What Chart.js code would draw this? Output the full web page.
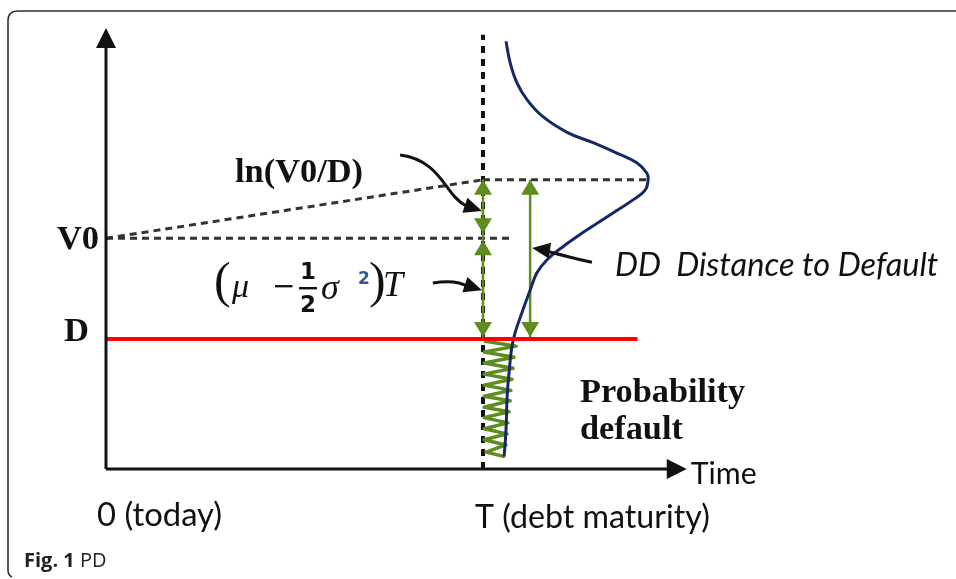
<!DOCTYPE html>
<html>
<head>
<meta charset="utf-8">
<script src="https://cdn.jsdelivr.net/npm/chart.js@4.4.1/dist/chart.umd.min.js"></script>
<style>
  html, body { margin: 0; padding: 0; background: #fff; }
  #c { display: block; }
</style>
</head>
<body>
<canvas id="c" width="956" height="579"></canvas>
<script>
// =====================
// data (x = time, y = ln value)
// =====================
const LEVEL_NAMES = ["V0", "D"];
const LEVEL_VALUES = [3.55, 2.0];
const EXPECTED_VT = 4.45;
const TIME_LABELS = ["0 (today)", "T (debt maturity)"];
const TIME_VALUES = [0, 1];

// distribution of ln V at T, drawn sideways from the T line
const CURVE_T = [1.061, 1.072, 1.090, 1.117, 1.159, 1.223, 1.292, 1.355, 1.408, 1.435, 1.438, 1.430, 1.398,
                 1.345, 1.276, 1.212, 1.170, 1.143, 1.125, 1.106, 1.080, 1.069, 1.064, 1.061, 1.056];
const CURVE_V = [6.58, 6.25, 5.94, 5.68, 5.42, 5.18, 5.02, 4.86, 4.71, 4.55, 4.45, 4.29, 4.14,
                 3.94, 3.68, 3.42, 3.22, 3.02, 2.75, 2.45, 1.98, 1.48, 1.11, 0.60, 0.19];

// green hatch under D (probability of default)
const HATCH_T = [1.003, 1.088, 1.003, 1.082, 1.003, 1.080, 1.003, 1.077, 1.003, 1.074, 1.003,
                 1.072, 1.003, 1.069, 1.003, 1.066, 1.003, 1.064, 1.003, 1.061, 1.008, 1.058];
const HATCH_V = [1.97, 1.89, 1.80, 1.72, 1.63, 1.55, 1.46, 1.38, 1.29, 1.21, 1.12,
                 1.05, 0.95, 0.88, 0.79, 0.71, 0.62, 0.54, 0.45, 0.37, 0.26, 0.19];

const DD_TIME = 1.125;      // where the DD arrow stands
const T_LINE_TOP = 6.68;
const Y_AXIS_TOP = 6.5;
const X_AXIS_END = 1.49;
const D_LINE_END = 1.41;
const V0_LINE_END = 1.08;
const VT_LINE_END = 1.44;

const V0 = LEVEL_VALUES[0];
const D = LEVEL_VALUES[1];
const T = TIME_VALUES[1];

const GREEN = "#5e8c1f";
const INK = "#111";

function pts(xs, ys) {
  return xs.map((x, i) => ({ x, y: ys[i] }));
}

function line(data, color, width, extra) {
  return Object.assign({
    data, showLine: true, borderColor: color, borderWidth: width,
    pointRadius: 0, fill: false, tension: 0, clip: false
  }, extra || {});
}

// =====================
// drawing helpers
// =====================
function head(ctx, tipX, tipY, fromX, fromY, len, half, color) {
  const a = Math.atan2(tipY - fromY, tipX - fromX);
  ctx.save();
  ctx.fillStyle = color;
  ctx.translate(tipX, tipY);
  ctx.rotate(a);
  ctx.beginPath();
  ctx.moveTo(0, 0);
  ctx.lineTo(-len, -half);
  ctx.lineTo(-len, half);
  ctx.closePath();
  ctx.fill();
  ctx.restore();
}

function fitFont(ctx, text, style, family, width) {
  ctx.font = `${style} 100px ${family}`;
  const w = ctx.measureText(text).width;
  return `${style} ${(100 * width / w).toFixed(1)}px ${family}`;
}

function text(ctx, str, x, y, font, color, align) {
  ctx.font = font;
  ctx.fillStyle = color || INK;
  ctx.textAlign = align || "left";
  ctx.textBaseline = "middle";
  ctx.fillText(str, x, y);
}

const diagram = {
  id: "diagram",
  afterDatasetsDraw(chart) {
    const ctx = chart.ctx;
    const sx = chart.scales.x, sy = chart.scales.y;
    const X = t => sx.getPixelForValue(t);
    const Y = v => sy.getPixelForValue(v);
    ctx.save();

    // frame (top + left, rounded corner)
    ctx.strokeStyle = "#333";
    ctx.lineWidth = 1.6;
    ctx.beginPath();
    ctx.moveTo(956, 11);
    ctx.lineTo(18, 11);
    ctx.quadraticCurveTo(8, 11, 8, 21);
    ctx.lineTo(8, 570);
    ctx.quadraticCurveTo(8, 575, 12, 577);
    ctx.stroke();

    // axis arrow heads
    head(ctx, X(0), Y(0) - 441, X(0), Y(Y_AXIS_TOP), 20, 10, INK);
    head(ctx, X(X_AXIS_END) + 19, Y(0), X(0), Y(0), 20, 10, INK);

    // green double arrows
    const gl = 15, gh = 9;
    head(ctx, X(T), Y(EXPECTED_VT), X(T), Y(V0), gl, gh, GREEN);
    head(ctx, X(T), Y(V0) - 5, X(T), Y(EXPECTED_VT), gl, gh, GREEN);
    head(ctx, X(T), Y(V0) + 2, X(T), Y(D), gl, gh, GREEN);
    head(ctx, X(T), Y(D) - 2, X(T), Y(V0), gl, gh, GREEN);
    head(ctx, X(DD_TIME), Y(EXPECTED_VT), X(DD_TIME), Y(D), gl, gh, GREEN);
    head(ctx, X(DD_TIME), Y(D) - 2, X(DD_TIME), Y(EXPECTED_VT), gl, gh, GREEN);

    // black curved pointers
    ctx.strokeStyle = INK;
    ctx.lineWidth = 3;
    ctx.beginPath();
    ctx.moveTo(X(0.78), Y(4.83));
    ctx.bezierCurveTo(X(0.89), Y(4.75), X(0.90), Y(4.20), X(0.955), Y(4.05));
    ctx.stroke();
    head(ctx, X(T) - 1, Y(3.97), X(0.93), Y(4.10), 18, 8, INK);

    ctx.beginPath();
    ctx.moveTo(X(0.867), Y(2.86));
    ctx.quadraticCurveTo(X(0.93), Y(2.92), X(0.96), Y(2.80));
    ctx.stroke();
    head(ctx, X(T) - 1, Y(2.75), X(0.93), Y(2.88), 18, 8, INK);

    ctx.beginPath();
    ctx.moveTo(X(1.289), Y(3.18));
    ctx.quadraticCurveTo(X(1.20), Y(3.30), X(1.16), Y(3.37));
    ctx.stroke();
    head(ctx, X(DD_TIME) + 2, Y(3.40), X(1.21), Y(3.33), 18, 8, INK);

    // level labels
    const serifB = "bold", serif = "'Liberation Serif', serif";
    text(ctx, LEVEL_NAMES[0], X(0) - 49, Y(V0) + 2, fitFont(ctx, LEVEL_NAMES[0], serifB, serif, 42));
    text(ctx, LEVEL_NAMES[1], X(0) - 42, Y(D) - 7, fitFont(ctx, LEVEL_NAMES[1], serifB, serif, 25));
    text(ctx, "ln(V0/D)", 235, 173, fitFont(ctx, "ln(V0/D)", serifB, serif, 128));
    text(ctx, "Probability", 580, 393, fitFont(ctx, "Probability", serifB, serif, 165));
    text(ctx, "default", 580, 430, fitFont(ctx, "default", serifB, serif, 103));

    // formula (mu - 1/2 sigma^2) T
    const mf = "'Liberation Serif', serif";
    text(ctx, "(", 214, 284, `50px ${mf}`);
    text(ctx, "\u03bc", 232, 288, `italic 34px ${mf}`);
    text(ctx, "\u2212", 272, 288, `28px 'DejaVu Sans', sans-serif`);
    text(ctx, "1", 308, 273, `bold 23px 'DejaVu Sans', sans-serif`, INK, "center");
    ctx.fillRect(299, 287, 18, 2.4);
    text(ctx, "2", 308, 306, `bold 23px 'DejaVu Sans', sans-serif`, INK, "center");
    text(ctx, "\u03c3", 321, 290, `italic 36px ${mf}`);
    text(ctx, "2", 358, 280, `bold 17px 'DejaVu Sans', sans-serif`, "#35598a");
    text(ctx, ")", 369, 284, `50px ${mf}`);
    text(ctx, "T", 383, 287, `italic 36px ${mf}`);

    // sans labels
    const sans = "Lato, 'Open Sans', sans-serif";
    text(ctx, "DD  Distance to Default", 615, 266, fitFont(ctx, "DD  Distance to Default", "italic", sans, 323));
    text(ctx, "Time", X(X_AXIS_END) + 23, Y(0) + 5, fitFont(ctx, "Time", "normal", sans, 66));
    text(ctx, TIME_LABELS[0], X(TIME_VALUES[0]) - 9, 515, fitFont(ctx, TIME_LABELS[0], "normal", sans, 125));
    text(ctx, TIME_LABELS[1], X(TIME_VALUES[1]) - 8, 518, fitFont(ctx, TIME_LABELS[1], "normal", sans, 235));

    // caption
    const cap = "'Open Sans', sans-serif";
    text(ctx, "Fig. 1", 24, 561, `bold 20px ${cap}`, "#222");
    ctx.font = `bold 20px ${cap}`;
    const w = ctx.measureText("Fig. 1 ").width;
    text(ctx, "PD", 24 + w, 561, `20px ${cap}`, "#222");

    ctx.restore();
  }
};

// =====================
// chart
// =====================
new Chart(document.getElementById("c"), {
  type: "scatter",
  data: {
    datasets: [
      // axes
      line([{ x: 0, y: 0 }, { x: 0, y: Y_AXIS_TOP }], INK, 3, { order: 0 }),
      line([{ x: 0, y: 0 }, { x: X_AXIS_END, y: 0 }], INK, 3, { order: 0 }),
      // default point D
      line([{ x: 0, y: D }, { x: D_LINE_END, y: D }], "#ff0000", 4, { order: 1 }),
      // distribution of asset value at T
      line(pts(CURVE_T, CURVE_V), "#142a66", 3, { order: 2, tension: 0.4 }),
      // green distance arrows (shafts)
      line([{ x: T, y: EXPECTED_VT }, { x: T, y: V0 }], GREEN, 2.5, { order: 3 }),
      line([{ x: T, y: V0 }, { x: T, y: D }], GREEN, 2.5, { order: 3 }),
      line([{ x: DD_TIME, y: EXPECTED_VT }, { x: DD_TIME, y: D }], GREEN, 2.5, { order: 3 }),
      // probability of default hatch
      line(pts(HATCH_T, HATCH_V), GREEN, 3.5, { order: 4, borderJoinStyle: "round" }),
      // dashed guides
      line([{ x: 0, y: V0 }, { x: V0_LINE_END, y: V0 }], "#333", 3, { order: 5, borderDash: [7, 5] }),
      line([{ x: 0, y: V0 }, { x: T, y: EXPECTED_VT }], "#333", 3, { order: 5, borderDash: [7, 5] }),
      line([{ x: T, y: EXPECTED_VT }, { x: VT_LINE_END, y: EXPECTED_VT }], "#333", 3, { order: 5, borderDash: [7, 5] }),
      line([{ x: T, y: 0 }, { x: T, y: T_LINE_TOP }], INK, 4, { order: 6, borderDash: [7, 6] })
    ]
  },
  options: {
    responsive: false,
    animation: false,
    devicePixelRatio: 1,
    layout: { padding: { left: 106, right: 96, top: 14, bottom: 110 } },
    scales: {
      x: { type: "linear", min: 0, max: 2, display: false },
      y: { type: "linear", min: 0, max: 7, display: false }
    },
    plugins: { legend: { display: false }, tooltip: { enabled: false } }
  },
  plugins: [diagram]
});
</script>
</body>
</html>
